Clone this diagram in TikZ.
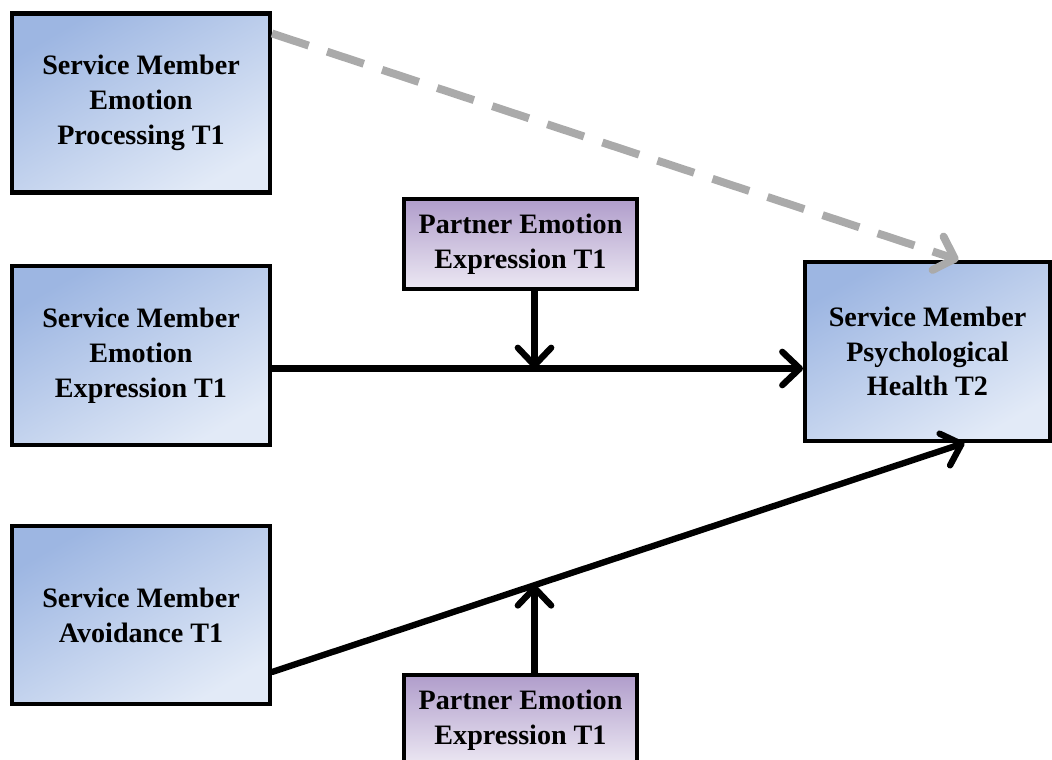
\documentclass[tikz,border=0pt]{standalone}
\usepackage{fontspec}
\setmainfont{Liberation Serif}
\usetikzlibrary{arrows.meta,calc}
\definecolor{bluetop}{HTML}{9DB6E2}
\definecolor{bluebot}{HTML}{E2EAF7}
\definecolor{purtop}{HTML}{B09DCB}
\definecolor{purbot}{HTML}{ECE8F3}
\definecolor{dashgray}{HTML}{AAAAAA}
\tikzset{
  smbox/.style={draw=black, line width=2.3pt, top color=bluetop, bottom color=bluebot, shading angle=30,
    minimum width=5.16cm, minimum height=3.58cm, align=center, inner sep=2pt,
    font=\fontsize{16pt}{19.8pt}\selectfont\bfseries},
  ptbox/.style={draw=black, line width=2.3pt, top color=purtop, bottom color=purbot,
    minimum width=4.66cm, minimum height=1.8cm, align=center, inner sep=2pt,
    font=\fontsize{16pt}{19.8pt}\selectfont\bfseries},
  arr/.style={line width=3.6pt, line cap=round, -{Straight Barb[length=10pt,width=19pt,round]}},
  darr/.style={line width=4.5pt, dashgray, dash pattern=on 22pt off 11pt, -{Straight Barb[length=10pt,width=20pt,round]}}
}
\begin{document}
\begin{tikzpicture}[x=0.02cm,y=-0.02cm]
\useasboundingbox (0,0) rectangle (1052,760);
\node[smbox] (b1) at (141,103) {Service Member\\Emotion\\Processing T1};
\node[smbox] (b2) at (141,355.5) {Service Member\\Emotion\\Expression T1};
\node[smbox, minimum height=3.56cm] (b3) at (141,615) {Service Member\\Avoidance T1};
\node[ptbox] (pt) at (520.5,244) {Partner Emotion\\Expression T1};
\node[ptbox] (pb) at (520.5,720) {Partner Emotion\\Expression T1};
\node[smbox, minimum width=4.9cm] (tgt) at (927.5,351.5) {Service Member\\Psychological\\Health T2};
% dashed
\coordinate (s1) at ($(b1.north east)+(0,22)$);
\coordinate (e1) at ($(tgt.north)+(31,0)$);
\draw[darr] (s1) -- (e1);
% expression path
\coordinate (s2) at ($(b2.east)+(0,13)$);
\coordinate (e2) at (s2 -| tgt.west);
\draw[arr] (s2) -- (e2);
\coordinate (p1) at ($(pt.south)+(14,0)$);
\draw[arr] (p1) -- (p1 |- s2);
% avoidance path
\coordinate (s3) at ($(b3.east)+(0,57)$);
\coordinate (e3) at ($(tgt.south)+(37,0)$);
\draw[arr] (s3) -- (e3);
\coordinate (p2) at ($(pb.north)+(14,0)$);
\coordinate (m3) at ($(s3)!0.381!(e3)$);
\draw[arr] (p2) -- (p2 |- m3);
\end{tikzpicture}
\end{document}
